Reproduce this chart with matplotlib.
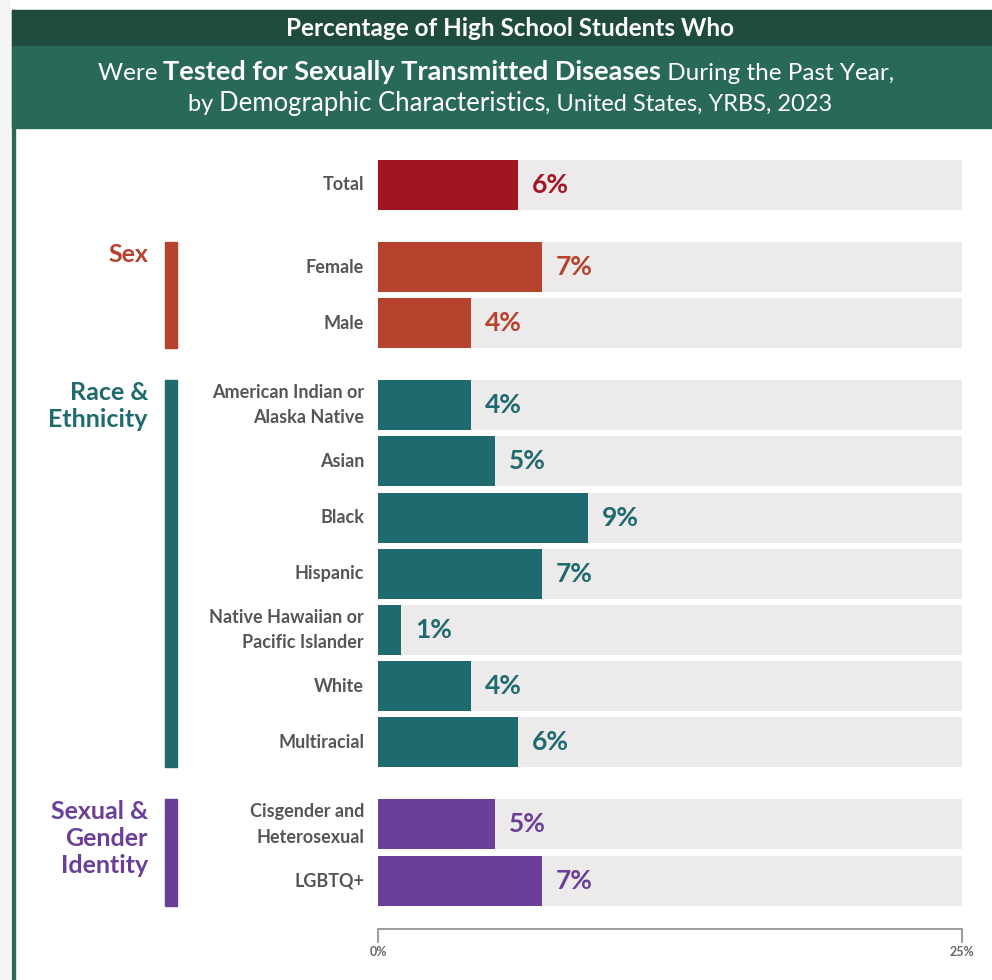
import matplotlib
matplotlib.use("Agg")
import matplotlib.pyplot as plt
from matplotlib.patches import Rectangle
import matplotlib.transforms as mtrans

# data
groups = ["Total", "Sex", "Race & Ethnicity", "Sexual & Gender Identity"]
group_titles = ["", "Sex", "Race &\nEthnicity", "Sexual &\nGender\nIdentity"]
categories = [
    ["Total"],
    ["Female", "Male"],
    ["American Indian or\nAlaska Native", "Asian", "Black", "Hispanic",
     "Native Hawaiian or\nPacific Islander", "White", "Multiracial"],
    ["Cisgender and\nHeterosexual", "LGBTQ+"],
]
values = [
    [6],
    [7, 4],
    [4, 5, 9, 7, 1, 4, 6],
    [5, 7],
]
colors = ["#A11423", "#B5432D", "#1E6A6E", "#6B3F97"]
xmax = 25

W, H = 992, 980
fig = plt.figure(figsize=(W / 100, H / 100), dpi=100)
fig.patch.set_facecolor("white")
FONT = ["Lato", "DejaVu Sans"]

def fy(y):
    return 1 - y / H

# frame / header
fig.patches.append(Rectangle((0, 0), 9 / W, 1, transform=fig.transFigure,
                             color="#F4F4F4", zorder=0))
fig.patches.append(Rectangle((12 / W, 0), 3 / W, fy(10), transform=fig.transFigure,
                             color="#2A6B5C", zorder=1))
fig.patches.append(Rectangle((12 / W, fy(46)), 1 - 12 / W, 36 / H,
                             transform=fig.transFigure, color="#1F4A3E", zorder=1))
fig.patches.append(Rectangle((12 / W, fy(128)), 1 - 12 / W, 82 / H,
                             transform=fig.transFigure, color="#296958", zorder=1))

fig.text(510 / W, fy(29), "Percentage of High School Students Who", color="white",
         fontsize=17.5, fontweight="bold", ha="center", va="center", family=FONT)


def mixed_line(pieces, y):
    texts = []
    for s, w, size in pieces:
        texts.append(fig.text(0, fy(y), s, color="white", fontsize=size, fontweight=w,
                              ha="left", va="baseline", family=FONT))
    return texts


line2 = mixed_line([("Were ", "normal", 17.5), ("Tested for Sexually Transmitted Diseases", "bold", 19.5),
                    (" During the Past Year,", "normal", 17.5)], 80)
line3 = mixed_line([("by ", "normal", 17), ("Demographic Characteristics", "normal", 18.5),
                    (", United States, YRBS, 2023", "normal", 17)], 111)

# bar axes: y in pixel units from the top
ax = fig.add_axes([378 / W, 0, 584 / W, 1])
ax.set_xlim(0, xmax)
ax.set_ylim(H, 0)
ax.axis("off")

lab_tr = mtrans.blended_transform_factory(fig.transFigure, ax.transData)
pitch, gap, bh = 56.2, 82, 50
y = 185
for gi, (cats, vals) in enumerate(zip(categories, values)):
    if gi > 0:
        y += gap - pitch
    ys = []
    for c, v in zip(cats, vals):
        ax.barh(y, xmax, height=bh, color="#ECEAEB", zorder=1)
        ax.barh(y, v, height=bh, color=colors[gi], zorder=2)
        ax.annotate(f"{v}%", (v, y), xytext=(10, 0), textcoords="offset points",
                    ha="left", va="center", color=colors[gi], fontsize=19,
                    fontweight="bold", family=FONT)
        fig.text(364 / W, y, c, transform=lab_tr, ha="right", va="center",
                 fontsize=13, fontweight="bold", color="#555555",
                 linespacing=1.6, family=FONT)
        ys.append(y)
        y += pitch
    y -= pitch
    if group_titles[gi]:
        top, bot = ys[0] - bh / 2, ys[-1] + bh / 2
        fig.patches.append(Rectangle((165 / W, fy(bot)), 12 / W, (bot - top) / H,
                                     transform=fig.transFigure, color=colors[gi]))
        fig.text(148 / W, top + 1, group_titles[gi], transform=lab_tr, ha="right",
                 va="top", fontsize=18, fontweight="bold", color=colors[gi],
                 linespacing=1.2, family=FONT)
    y += pitch

# axis bracket
ax.plot([0, 0, xmax, xmax], [942, 929, 929, 942], color="#8A8A8A", lw=1.2,
        clip_on=False, zorder=3)
for xv in [0, xmax]:
    ax.text(xv, 952, f"{xv}%", ha="center", va="center", fontsize=9,
            fontweight="bold", color="#666666", family=FONT)

# center the mixed header lines
fig.canvas.draw()
r = fig.canvas.get_renderer()
for texts, xc in [(line2, 496), (line3, 510)]:
    widths = [t.get_window_extent(r).width for t in texts]
    x0 = xc - sum(widths) / 2
    for t, w in zip(texts, widths):
        t.set_x(x0 / W)
        x0 += w

fig.savefig("out.png", dpi=100)
